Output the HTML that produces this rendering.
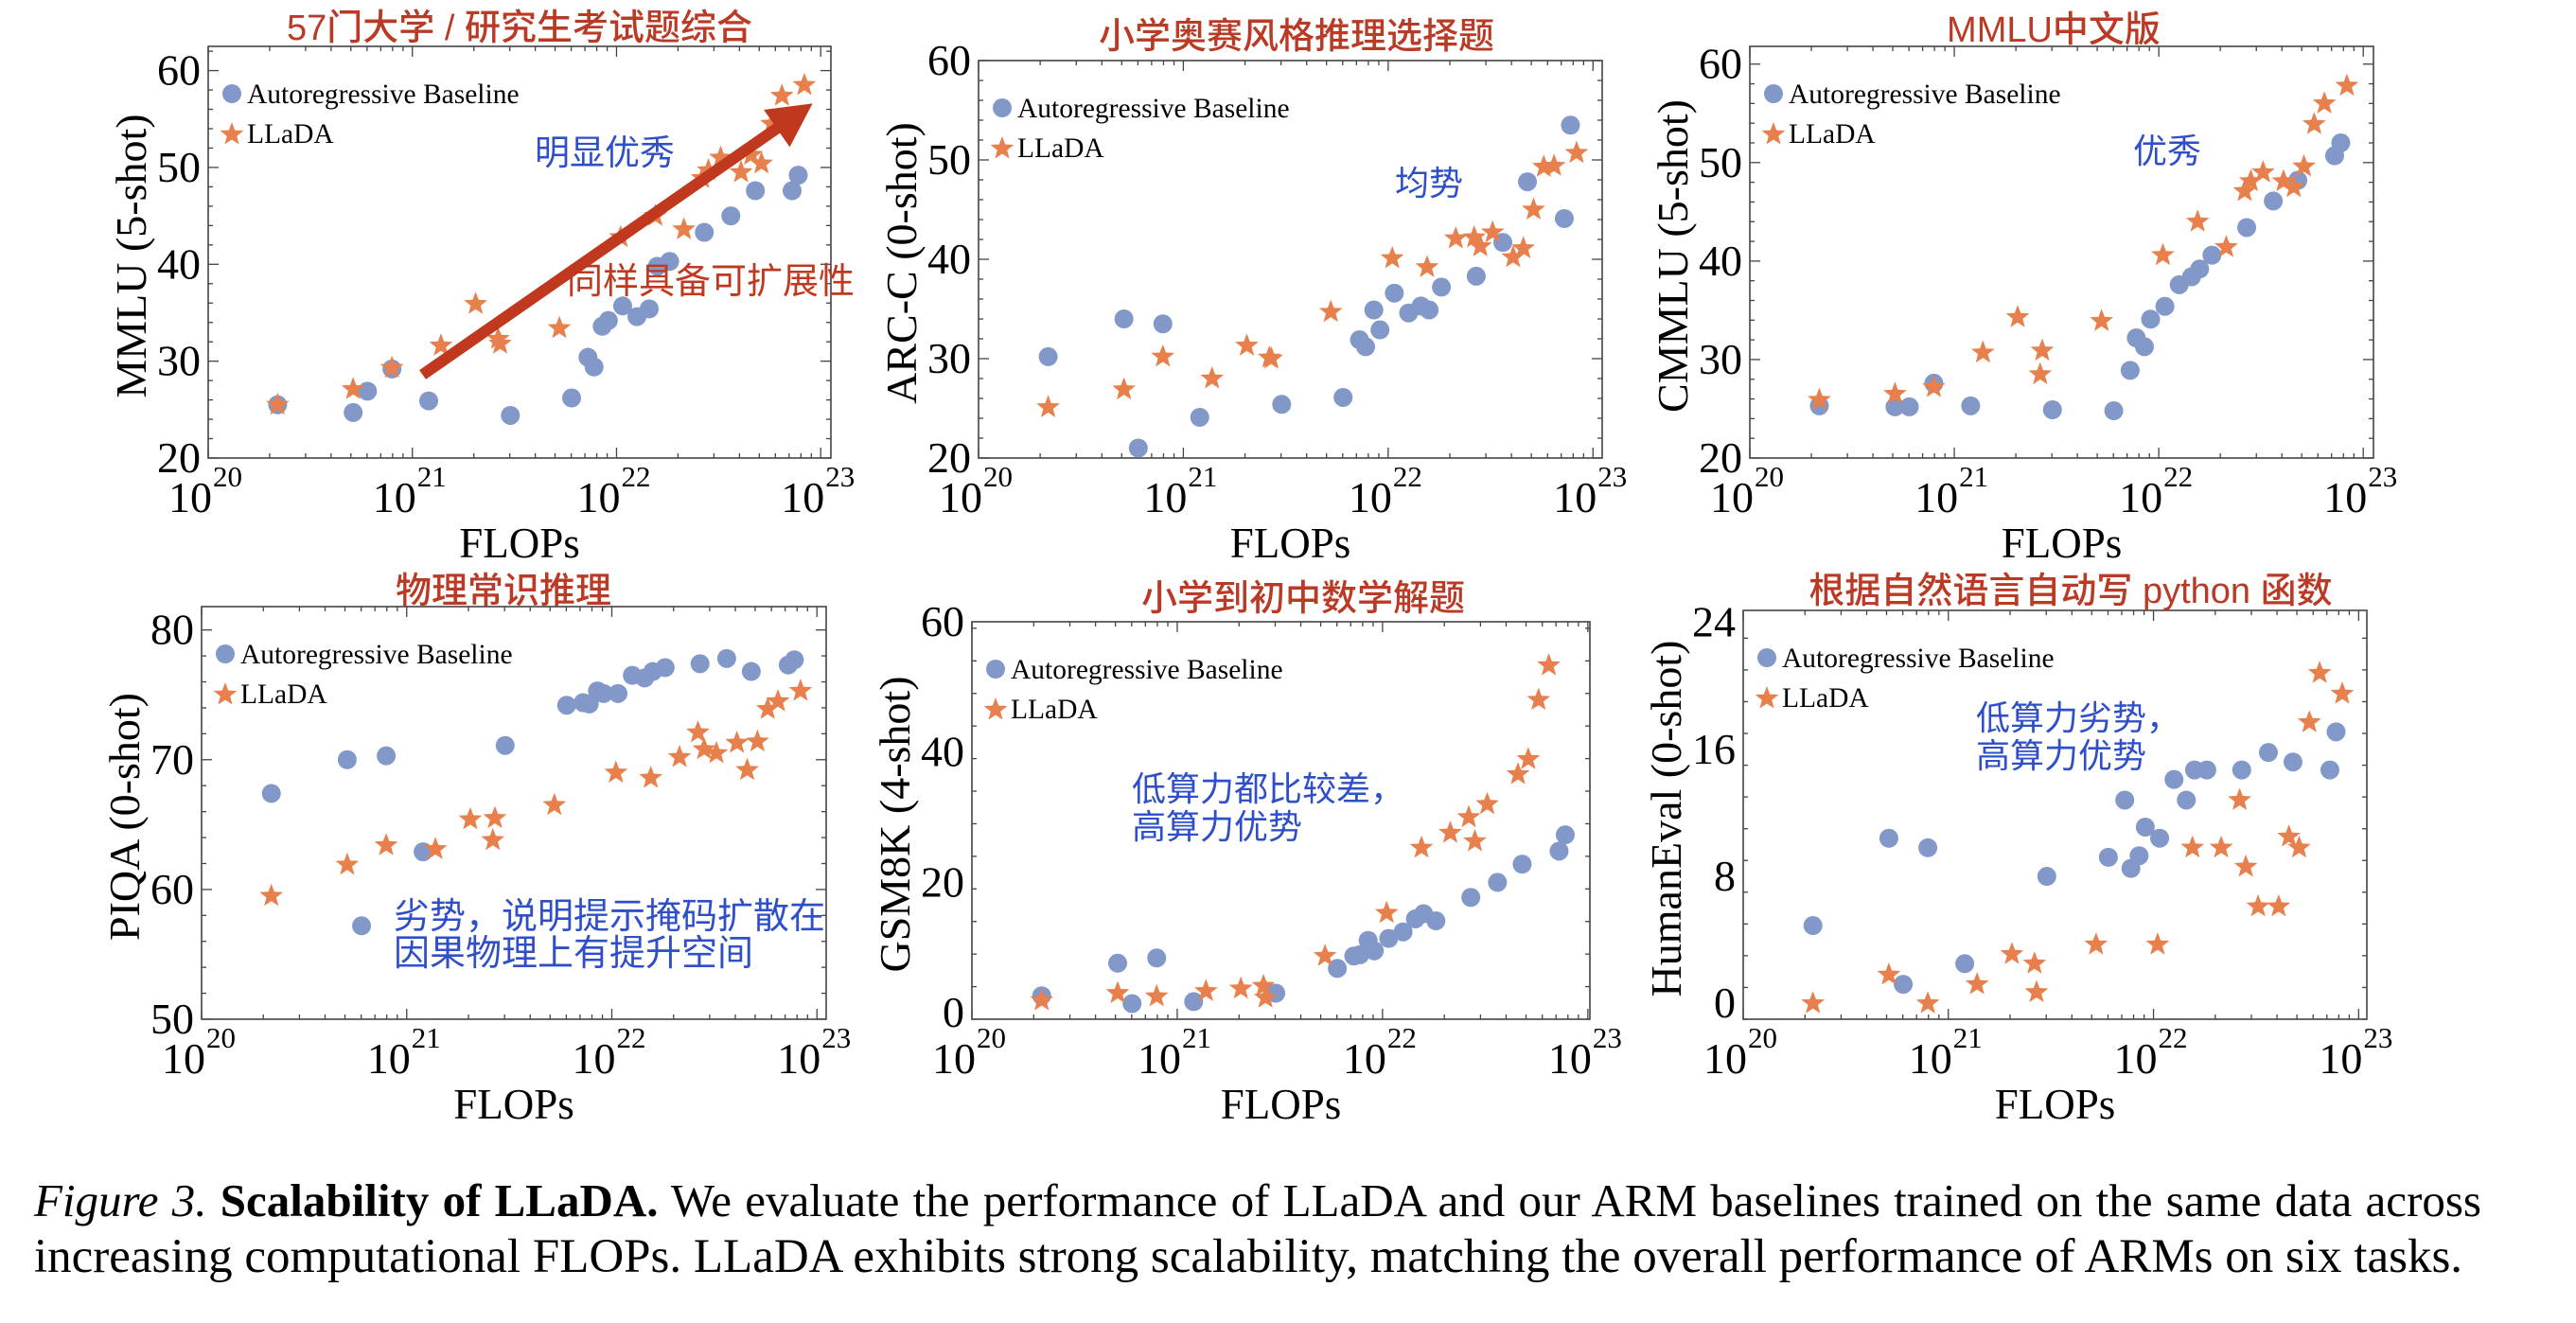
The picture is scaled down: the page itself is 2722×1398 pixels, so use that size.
<!DOCTYPE html>
<html><head><meta charset="utf-8">
<style>
html,body{margin:0;padding:0;background:#fff;}
svg{display:block;}
.cap{position:absolute;left:36px;width:2590px;font-family:"Liberation Serif",serif;font-size:51px;color:#000;text-align:justify;text-align-last:justify;white-space:nowrap;}
</style></head>
<body>
<div style="position:relative;width:2722px;height:1398px;overflow:hidden;">
<svg id="fig" width="2722" height="1398" viewBox="0 0 2722 1398" xmlns="http://www.w3.org/2000/svg"></svg>
<div class="cap" style="top:1240px;font-size:49px;width:2586px;"><i>Figure 3.</i> <b>Scalability of LLaDA.</b> We evaluate the performance of LLaDA and our ARM baselines trained on the same data across</div>
<div class="cap" style="top:1299px;text-align-last:left;width:auto;">increasing computational FLOPs. LLaDA exhibits strong scalability, matching the overall performance of ARMs on six tasks.</div>
</div>
<script>
// log10(FLOPs) of each checkpoint
const arFlops = [20.34,20.71,20.78,20.90,21.08,21.48,21.78,21.86,21.89,21.93,21.96,22.03,22.10,22.16,22.20,22.26,22.43,22.56,22.68,22.86,22.89];
const llFlops = [20.34,20.71,20.90,21.14,21.31,21.42,21.43,21.72,22.02,22.19,22.33,22.42,22.45,22.51,22.61,22.66,22.71,22.76,22.81,22.92];
const xTickExps = [20,21,22,23];
// MMLU
const mmluAR = [25.5,24.7,26.9,29.2,25.9,24.4,26.2,30.4,29.4,33.6,34.2,35.7,34.6,35.4,39.8,40.3,43.3,45.0,47.6,47.6,49.2];
const mmluLL = [25.5,27.1,29.3,31.6,35.9,32.3,31.8,33.4,42.8,45.0,43.6,48.9,49.7,51.0,49.5,51.3,50.4,54.5,57.4,58.5];
// ARC-C
const arcAR = [30.2,34.0,21.0,33.5,24.1,25.4,26.1,31.9,31.2,34.9,32.9,36.6,34.6,35.3,34.9,37.2,38.3,41.7,47.8,44.1,53.5];
const arcLL = [25.1,26.9,30.2,28.0,31.3,30.1,30.0,34.7,40.1,39.2,42.1,42.2,41.3,42.7,40.2,41.1,45.0,49.3,49.4,50.7];
// CMMLU
const cmmluAR = [25.3,25.2,25.2,27.6,25.3,24.9,24.8,28.9,32.2,31.3,34.1,35.4,37.6,38.4,39.2,40.6,43.4,46.1,48.2,50.7,52.0];
const cmmluLL = [25.9,26.5,27.2,30.7,34.3,28.5,30.9,33.9,40.6,44.0,41.4,47.1,48.1,49.0,48.1,47.5,49.6,53.9,56.0,57.8];
// PIQA
const piqaAR = [67.4,70.0,57.2,70.3,62.9,71.1,74.2,74.4,74.3,75.3,75.1,75.1,76.5,76.3,76.8,77.1,77.4,77.8,76.8,77.3,77.7];
const piqaLL = [59.5,61.9,63.4,63.1,65.4,63.8,65.5,66.5,69.0,68.6,70.2,72.1,70.8,70.5,71.3,69.2,71.4,73.9,74.5,75.3];
// GSM8K
const gsmAR = [2.6,7.6,1.4,8.4,1.7,3.0,6.8,8.7,8.9,11.1,9.5,11.4,12.4,14.4,15.2,14.1,17.7,20.0,22.8,24.8,27.3];
const gsmLL = [1.9,3.0,2.5,3.3,3.7,4.1,2.3,8.7,15.3,25.3,27.6,30.0,26.3,32.0,null,36.6,38.9,48.0,53.3,null];
// HumanEval
const heAR = [4.9,10.4,1.2,9.8,2.5,8.0,9.2,12.8,8.5,9.3,11.1,10.4,14.1,12.8,14.7,14.7,14.7,15.8,15.2,14.7,17.1];
const heLL = [0,1.8,0,1.2,3.1,2.5,0.7,3.7,3.7,9.8,9.8,12.8,8.6,6.1,6.1,10.5,9.8,17.7,20.8,19.5];
// y ticks
const mmluTicks = [20,30,40,50,60];
const piqaTicks = [50,60,70,80];
const gsmTicks = [0,20,40,60];
const heTicks = [0,8,16,24];

const NS = "http://www.w3.org/2000/svg";
const svg = document.getElementById('fig');
function mk(tag, attrs, parent){
  const e = document.createElementNS(NS, tag);
  for (const k in attrs) e.setAttribute(k, attrs[k]);
  (parent||svg).appendChild(e);
  return e;
}
const BLUE = "#8198c8", ORANGE = "#e7804c";

function starPts(cx, cy, R, r){
  let p = [];
  for (let i=0;i<10;i++){
    const a = -Math.PI/2 + i*Math.PI/5;
    const rr = i%2===0 ? R : r;
    p.push((cx+rr*Math.cos(a)).toFixed(1)+","+(cy+rr*Math.sin(a)).toFixed(1));
  }
  return p.join(" ");
}

function panel(cfg){
  const g = mk('g', {});
  
  
  const {L,R,T,B,ymin,ymax,xmax} = cfg;
  const xs = v => L + (v-20)/(xmax-20)*(R-L);
  const ys = v => B - (v-ymin)/(ymax-ymin)*(B-T);
  const fr = mk('rect', {x:L,y:T,width:R-L,height:B-T,fill:'none',stroke:'#444','stroke-width':1.6}, g);
  
  
  for (let e=20;e<23.2;e++){
    for (let m=1;m<10;m++){
      const lv = e + Math.log10(m);
      if (lv > xmax) break;
      const x = xs(lv), len = m===1?11:5;
      mk('line',{x1:x,y1:B,x2:x,y2:B-len,stroke:'#444','stroke-width':1.3},g);
      mk('line',{x1:x,y1:T,x2:x,y2:T+len,stroke:'#444','stroke-width':1.3},g);
    }
  }
  xTickExps.forEach(e=>{
    const x = xs(e);
    const t = mk('text',{x:x+4,y:B+57,'text-anchor':'end','font-family':'Liberation Serif, serif','font-size':46,fill:'#000'},g);
    t.textContent = '10';
    
    
    const s = mk('text',{x:x+5,y:B+30,'font-family':'Liberation Serif, serif','font-size':31,fill:'#000'},g);
    s.textContent = String(e);
    
    
  });
  for (let v=ymin; v<=ymax+1e-6; v+=cfg.minor){
    const y = ys(v);
    const major = cfg.ticks.some(t=>Math.abs(t-v)<1e-6);
    const len = major?11:5;
    mk('line',{x1:L,y1:y,x2:L+len,y2:y,stroke:'#444','stroke-width':1.3},g);
    mk('line',{x1:R,y1:y,x2:R-len,y2:y,stroke:'#444','stroke-width':1.3},g);
  }
  cfg.ticks.forEach(v=>{
    const t = mk('text',{x:L-8,y:ys(v)+15,'text-anchor':'end','font-family':'Liberation Serif, serif','font-size':46,fill:'#000'},g);
    t.textContent = String(v);
    
    
  });
  const xt = mk('text',{x:(L+R)/2,y:B+105,'text-anchor':'middle','font-family':'Liberation Serif, serif','font-size':45,fill:'#000'},g);
  xt.textContent = 'FLOPs';
  
  
  const yx = L-66, yy = (T+B)/2 + 4;
  const yt = mk('text',{x:yx,y:yy,'text-anchor':'middle','font-family':'Liberation Serif, serif','font-size':46,fill:'#000',transform:`rotate(-90 ${yx} ${yy})`},g);
  yt.textContent = cfg.ylabel;
  
  
  const tt = mk('text',{x:cfg.titleX,y:cfg.titleY,'text-anchor':'middle','font-family':'Liberation Sans, Noto Sans CJK SC, sans-serif','font-size':38,'font-weight':500,fill:'#b93a25'},g);
  tt.textContent = cfg.title;
  
  
  const ld = mk('circle',{cx:L+25,cy:T+50,r:10,fill:BLUE},g);
  
  
  const lt1 = mk('text',{x:L+41,y:T+60,'font-family':'Liberation Serif, serif','font-size':29.5,fill:'#000'},g);
  lt1.textContent = 'Autoregressive Baseline';
  
  
  const ls = mk('polygon',{points:starPts(L+25,T+93,13,5.5),fill:ORANGE},g);
  
  
  const lt2 = mk('text',{x:L+41,y:T+102,'font-family':'Liberation Serif, serif','font-size':29.5,fill:'#000'},g);
  lt2.textContent = 'LLaDA';
  
  
  cfg.ar.forEach((v,i)=>{
    if (v===null) return;
    const c = mk('circle',{cx:xs(arFlops[i]),cy:ys(v),r:10,fill:BLUE},g);
    
    
  });
  cfg.ll.forEach((v,i)=>{
    if (v===null) return;
    const p = mk('polygon',{points:starPts(xs(llFlops[i]),ys(v),13,5.5),fill:ORANGE},g);
    
    
  });
  (cfg.notes||[]).forEach(n=>{
    const t = mk('text',{x:n.x,y:n.y,'font-family':'Liberation Sans, Noto Sans CJK SC, sans-serif','font-size':n.size||37,fill:n.color||'#2f4fc8'},g);
    t.textContent = n.text;
    
    
  });
  if (cfg.arrow){
    const [a0,b0,a1,b1] = cfg.arrow;
    const x0=xs(a0),y0=ys(b0),x1=xs(a1),y1=ys(b1);
    const dx=x1-x0, dy=y1-y0, len=Math.hypot(dx,dy), ux=dx/len, uy=dy/len, px=-uy, py=ux;
    const hl=46, hw=24, w=6;
    const bx=x1-ux*hl, by=y1-uy*hl;
    const pts=[[x0+px*w,y0+py*w],[bx+px*w,by+py*w],[bx+px*hw,by+py*hw],[x1,y1],[bx-px*hw,by-py*hw],[bx-px*w,by-py*w],[x0-px*w,y0-py*w]];
    const ar = mk('polygon',{points:pts.map(p=>p[0].toFixed(1)+","+p[1].toFixed(1)).join(" "),fill:'#c0381e'},g);
    
    
  }
}

panel({name:'panel-mmlu',L:220,R:878,T:49,B:484,ymin:20,ymax:62.5,xmax:23.05,ticks:mmluTicks,minor:2,ylabel:'MMLU (5-shot)',
  title:'57门大学 / 研究生考试题综合',titleX:549,titleY:42,ar:mmluAR,ll:mmluLL,arrow:[21.05,28.6,22.96,56.6],
  notes:[{text:'明显优秀',x:565,y:174},{text:'同样具备可扩展性',x:599,y:310,color:'#c0381e',size:38}]});
panel({name:'panel-arc-c',L:1034,R:1693,T:64,B:484,ymin:20,ymax:60,xmax:23.045,ticks:mmluTicks,minor:2,ylabel:'ARC-C (0-shot)',
  title:'小学奥赛风格推理选择题',titleX:1370,titleY:51,ar:arcAR,ll:arcLL,
  notes:[{text:'均势',x:1474,y:206,size:36}]});
panel({name:'panel-cmmlu',L:1849,R:2508,T:49,B:484,ymin:20,ymax:61.8,xmax:23.05,ticks:mmluTicks,minor:2,ylabel:'CMMLU (5-shot)',
  title:'MMLU中文版',titleX:2170,titleY:44,ar:cmmluAR,ll:cmmluLL,
  notes:[{text:'优秀',x:2254,y:172,size:36}]});
panel({name:'panel-piqa',L:213,R:873,T:641,B:1077,ymin:50,ymax:81.8,xmax:23.045,ticks:piqaTicks,minor:2,ylabel:'PIQA (0-shot)',
  title:'物理常识推理',titleX:532,titleY:637,ar:piqaAR,ll:piqaLL,
  notes:[{text:'劣势，说明提示掩码扩散在',x:416,y:981,size:38},{text:'因果物理上有提升空间',x:416,y:1020,size:38}]});
panel({name:'panel-gsm8k',L:1027,R:1680,T:657,B:1077,ymin:-1,ymax:60,xmax:23.01,ticks:gsmTicks,minor:5,ylabel:'GSM8K (4-shot)',
  title:'小学到初中数学解题',titleX:1377,titleY:645,ar:gsmAR,ll:gsmLL,
  notes:[{text:'低算力都比较差，',x:1196,y:846,size:36},{text:'高算力优势',x:1196,y:886,size:36}]});
panel({name:'panel-humaneval',L:1842,R:2501,T:645,B:1077,ymin:-1,ymax:24.75,xmax:23.04,ticks:heTicks,minor:2,ylabel:'HumanEval (0-shot)',
  title:'根据自然语言自动写 python 函数',titleX:2188,titleY:637,ar:heAR,ll:heLL,
  notes:[{text:'低算力劣势，',x:2088,y:771,size:36},{text:'高算力优势',x:2088,y:811,size:36}]});
</script>
</body></html>
